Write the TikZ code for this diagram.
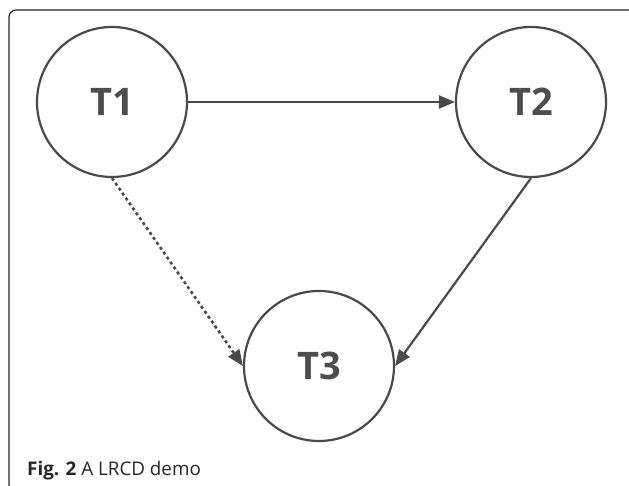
\documentclass[tikz,border=0pt]{standalone}
\usepackage{fontspec}
\setmainfont{Open Sans}
\usetikzlibrary{arrows.meta}
\definecolor{ink}{HTML}{4A4A4A}
\definecolor{txt}{HTML}{4D4D4D}
\begin{document}
\begin{tikzpicture}[x=1pt,y=-1pt,
  tnode/.style={circle,draw=ink,line width=2.2pt,minimum size=150pt,inner sep=0pt,
    text=txt,font=\fontsize{38}{40}\selectfont\bfseries},
  conn/.style={draw=ink,line width=2.2pt,-{Triangle[length=16pt,width=13pt]}},
  dotconn/.style={conn,dash pattern=on 3pt off 3pt,line width=2.6pt}]
\useasboundingbox (0,0) rectangle (629,486);
\clip (0,0) rectangle (629,486);
\draw[line width=1.2pt,color=black!85,rounded corners=7pt] (9,10) rectangle (640,492);
\node[tnode] (t1) at (112,102) {T1};
\node[tnode] (t2) at (531,102) {T2};
\node[tnode] (t3) at (319,366) {T3};
\draw[conn] (t1.east) -- (t2.west);
\draw[conn] (t2.south) -- (t3.east);
\draw[dotconn] (t1.south) -- (t3.west);
\node[anchor=base west,inner sep=0pt,text=black!85,font=\fontsize{18.8}{22}\selectfont] (cap) at (27,475) {\textbf{Fig. 2} A LRCD demo};
\end{tikzpicture}
\end{document}
